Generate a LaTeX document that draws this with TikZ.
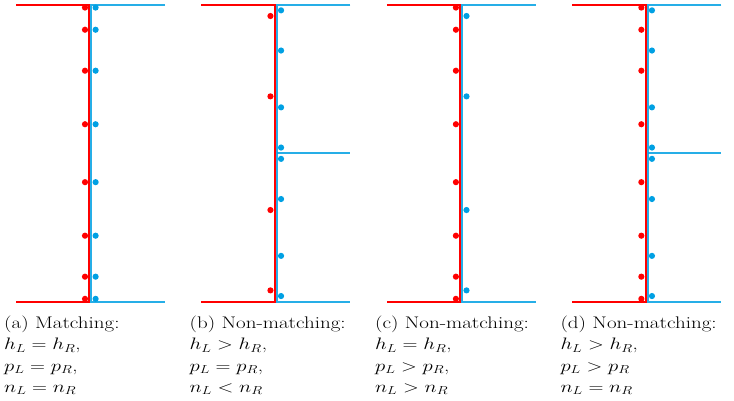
\documentclass[tikz,border=0pt]{standalone}
\definecolor{lred}{RGB}{255,0,0}
\definecolor{rblue}{RGB}{0,160,227}
% collocation points of one element: n Chebyshev-Gauss nodes between top and bottom
\newcommand\colpts[5]{%
  \foreach \k in {1,...,#2}{%
    \fill[#5] (#1,{(#3+#4)/2+(#3-#4)/2*cos((2*\k-1)*180/(2*#2))}) circle (3.1);}}
\tikzset{
  leftdom/.style={draw=lred, line width=1.8pt},
  rightdom/.style={draw=rblue, line width=1.8pt, draw opacity=0.85},
  captext/.style={anchor=north west, align=left, inner sep=0pt,
    font=\fontsize{21}{26.5}\selectfont, yscale=0.8, transform shape},
}
\begin{document}
\begin{tikzpicture}[x=1pt,y=1pt]
\useasboundingbox (0,0) rectangle (734,-401);
\def\T{-4.7}\def\B{-301.7}\def\C{-153.2}
\foreach \i/\nl/\nr/\split/\cap [count=\c] in {
  0/8/8/0/{(a) Matching:\\ $h_L = h_R$,\\ $p_L = p_R$,\\ $n_L = n_R$},
  1/4/4/1/{(b) Non-matching:\\ $h_L > h_R$,\\ $p_L = p_R$,\\ $n_L < n_R$},
  2/8/4/0/{(c) Non-matching:\\ $h_L = h_R$,\\ $p_L > p_R$,\\ $n_L > n_R$},
  3/8/4/1/{(d) Non-matching:\\ $h_L > h_R$,\\ $p_L > p_R$\\ $n_L = n_R$}}{
  \pgfmathsetmacro\X{90.3+185.45*\i}
  % left element boundary
  \draw[leftdom] (\X-74.3,\T) -- (\X-1,\T) -- (\X-1,\B) -- (\X-74.3,\B);
  % right element boundary
  \draw[rightdom] (\X+74.7,\T) -- (\X+1,\T) -- (\X+1,\B) -- (\X+74.7,\B);
  \ifnum\split=1
    \draw[rightdom] (\X+1,\C) -- (\X+74.7,\C);
    \colpts{\X+5.3}{\nr}{\T}{\C}{rblue}
    \colpts{\X+5.3}{\nr}{\C}{\B}{rblue}
  \else
    \colpts{\X+5.3}{\nr}{\T}{\B}{rblue}
  \fi
  \colpts{\X-5.3}{\nl}{\T}{\B}{lred}
  \node[captext] (cap\c) at (\X-86.3,-316) {\cap};
}
\end{tikzpicture}
\end{document}
